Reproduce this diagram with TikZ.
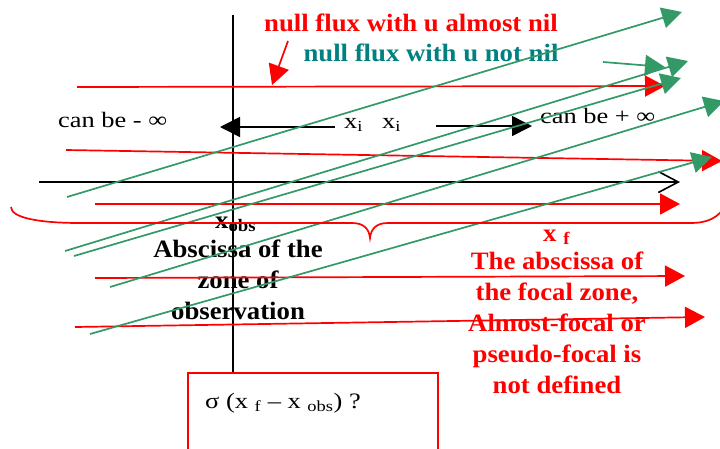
\documentclass[tikz,border=0pt]{standalone}
\usepackage{fontspec}
\setmainfont{Liberation Serif}
\newfontfamily\serifwide{Liberation Serif}[FakeStretch=1.2]
\newfontfamily\serifbold{Liberation Serif}[FakeStretch=1.07]
\usetikzlibrary{arrows.meta}
\definecolor{fluxred}{HTML}{FF0000}
\definecolor{fluxgreen}{HTML}{339966}
\definecolor{fluxteal}{HTML}{008080}
\tikzset{
  axisline/.style={draw=black,line width=1.8pt},
  redray/.style={-{Triangle[length=20pt,width=21pt]},draw=fluxred,line width=1.7pt},
  greenray/.style={-{Triangle[length=20pt,width=21pt]},draw=fluxgreen,line width=1.7pt},
  blackray/.style={-{Triangle[length=20pt,width=20pt]},draw=black,line width=1.6pt},
  plaintxt/.style={font=\serifwide\fontsize{22}{26}\selectfont,inner sep=0pt},
  boldtxt/.style={font=\serifbold\bfseries\fontsize{25}{31}\selectfont,inner sep=0pt,align=center}}

\begin{document}
\begin{tikzpicture}[x=1pt,y=-1pt]
  \useasboundingbox (0,0) rectangle (720,448);
  \clip (0,0) rectangle (720,448);
  % labels first, the rays run over them
  \node[boldtxt,text=fluxred,anchor=base] (almostnil) at (411,31) {null flux with u almost nil};
  \node[boldtxt,text=fluxteal,anchor=base] (notnil) at (431,61) {null flux with u not nil};
  \node[plaintxt,anchor=base west] (minf) at (58,127) {can be - ∞};
  \node[plaintxt,anchor=base west] (pinf) at (540,123) {can be + ∞};
  \node[plaintxt,anchor=base west] (xia) at (344,128) {x\textsubscript{i}};
  \node[plaintxt,anchor=base west] (xib) at (382,128) {x\textsubscript{i}};
  \node[boldtxt,anchor=base west] (xobs) at (215,228) {x\textsubscript{obs}};
  \node[boldtxt,anchor=north] (obszone) at (238,240) {Abscissa of the\\zone of\\observation};
  \node[boldtxt,text=fluxred,anchor=base west] (xf) at (543,241) {x \textsubscript{f}};
  \node[boldtxt,text=fluxred,anchor=north] (focalzone) at (557,252) {The abscissa of\\the focal zone,\\Almost-focal or\\pseudo-focal is\\not defined};
  \node[draw=fluxred,line width=1.7pt,minimum width=250pt,minimum height=120pt,anchor=north west,inner sep=0pt] (sigbox) at (187,372) {};
  \node[plaintxt,anchor=base west] (sigma) at (205,408) {σ (x \textsubscript{f} – x \textsubscript{obs}) ?};
  % the two axes
  \coordinate (vtop) at (233,15);
  \coordinate (hleft) at (39,182);
  \coordinate (hright) at (680,182);
  \draw[axisline] (vtop) -- (vtop |- sigbox.north);
  \draw[axisline,line width=1.6pt,-{Straight Barb[length=20pt,width=21pt]}] (hleft) -- (hright);
  % x_i can run either way
  \coordinate (leftend) at (220,127);
  \coordinate (rightend) at (532,126);
  \draw[blackray] (xia.base west) ++(-9,-1) -- (leftend);
  \draw[blackray] (xib.base east) ++(35,-2) -- (rightend);
  % red rays, u almost nil
  \foreach \xa/\ya/\xb/\yb in {77/87/665/86, 66/150/722/161, 95/204/680/204, 95/278/685/276, 75/327/705/317}
    \draw[redray] (\xa,\ya) -- (\xb,\yb);
  \coordinate (ptip) at (272,85);
  \draw[redray] (288,41) -- (ptip);
  % green rays, u not nil
  \foreach \xa/\ya/\xb/\yb in {67/197/682/12, 603/62/665/67, 65/251/688/61, 74/256/681/78, 110/287/724/101, 90/334/712/157}
    \draw[greenray] (\xa,\ya) -- (\xb,\yb);
  % the brace
  \draw[fluxred,line width=1.7pt] (11,207) .. controls (11,218) and (40,223) .. (80,223) -- (352,223)
    .. controls (364,223) and (369,229) .. (370,238) .. controls (371,229) and (376,223) .. (388,223)
    -- (690,223) .. controls (708,223) and (718,218) .. (726,205);
\end{tikzpicture}
\end{document}
